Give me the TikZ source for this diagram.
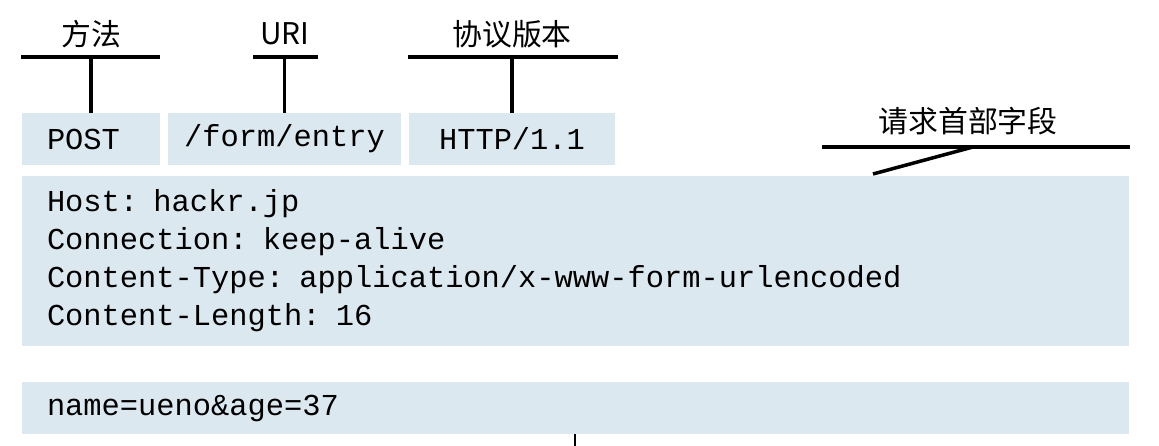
\documentclass[tikz,border=0pt]{standalone}
\usepackage{fontspec}
\setmonofont{Liberation Mono}
\newfontfamily\cjk{Noto Sans CJK SC}
\usetikzlibrary{positioning}
\definecolor{fieldfill}{RGB}{220,232,240}

\begin{document}
\begin{tikzpicture}[
    field/.style={
        fill=fieldfill, inner sep=0pt, minimum height=10.4mm,
        font=\ttfamily\fontsize{17.3}{21.6}\selectfont
    },
    tag/.style={font=\cjk\fontsize{17}{19}\selectfont, inner sep=0pt},
    bar/.style={line width=2pt},
]
\useasboundingbox (0,0) rectangle (23.18,8.92);

% Request line
\node[field, text width=17.6mm, inner xsep=5mm, align=left] (method) at (1.82,6.14) {POST};
\node[field, minimum width=46.6mm] (uri)     at (5.69,6.14)  {/form/entry};
\node[field, minimum width=41.2mm] (version) at (10.24,6.14) {HTTP/1.1};

% Header fields
\node[field, text width=211.4mm, inner xsep=5mm, minimum height=34mm, align=left] (header) at (11.51,3.70)
    {Host: hackr.jp\\Connection: keep-alive\\Content-Type: application/x-www-form-urlencoded\\Content-Length: 16};

% Message body
\node[field, text width=211.4mm, inner xsep=5mm, align=left] (body) at (11.51,0.76) {name=ueno\&age=37};

% Tags
\node[tag] (methodtag)  at (1.82,8.24)  {方法};
\node[tag] (uritag)     at (5.70,8.24)  {URI};
\node[tag] (versiontag) at (10.24,8.24) {协议版本};
\node[tag] (headertag)  at (19.36,6.50) {请求首部字段};

% Bars
\coordinate (methodL)  at (0.42,7.78);
\coordinate (methodR)  at (3.20,7.78);
\coordinate (uriL)     at (5.06,7.78);
\coordinate (uriR)     at (6.36,7.78);
\coordinate (versionL) at (8.16,7.78);
\coordinate (versionR) at (12.36,7.78);
\coordinate (headerL)  at (16.44,5.98);
\coordinate (headerR)  at (22.60,5.98);
\coordinate (headerknee) at (19.46,5.98);
\coordinate (headerfoot) at (17.46,5.44);
\coordinate (bodyfoot) at (11.50,0);

\draw[bar] (methodL) -- (methodR);
\draw[bar] (method.north) -- (method.north |- methodL);
\draw[bar] (uriL) -- (uriR);
\draw[bar] (uri.north) -- (uri.north |- uriL);
\draw[bar] (versionL) -- (versionR);
\draw[bar] (version.north) -- (version.north |- versionL);
\draw[bar] (headerL) -- (headerR);
\draw[bar] (headerknee) -- (headerfoot);
\draw[line width=1.2pt] (body.south -| bodyfoot) -- (bodyfoot);

\end{tikzpicture}
\end{document}
